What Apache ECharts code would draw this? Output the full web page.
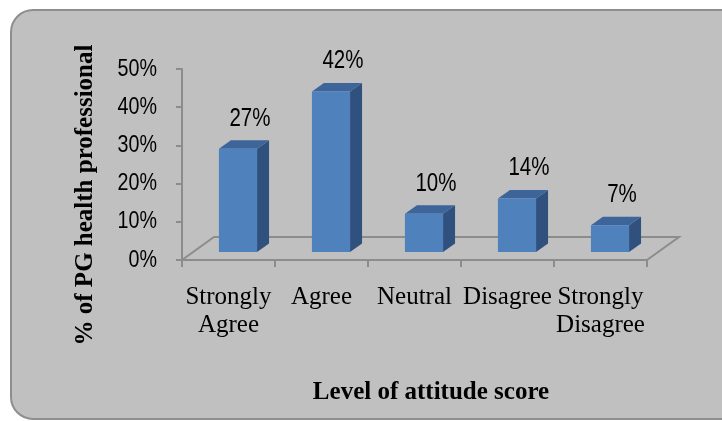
<!DOCTYPE html>
<html>
<head>
<meta charset="utf-8">
<script src="https://cdn.jsdelivr.net/npm/echarts@6/dist/echarts.min.js"></script>
<style>
html,body{margin:0;padding:0;background:#fff;}
#chart{width:722px;height:421px;}
</style>
</head>
<body>
<div id="chart"></div>
<script>
const categories = ['Strongly Agree', 'Agree', 'Neutral', 'Disagree', 'Strongly Disagree'];
const values = [27, 42, 10, 14, 7];
const yTicks = [0, 10, 20, 30, 40, 50];

const SANS = '"Liberation Sans", Arial, sans-serif';
const SERIF = '"Liberation Serif", "Times New Roman", serif';
const GRAYLINE = '#8c8c8c';
const NARROW_SCALE = 0.82;

const chart = echarts.init(document.getElementById('chart'), null, {renderer: 'canvas'});

function renderFloor(params, api) {
  const cs = params.coordSys;
  const x0 = cs.x, x1 = cs.x + cs.width, y0 = cs.y + cs.height;
  const dx = 32, dy = -23;
  return {
    type: 'polyline',
    shape: {points: [[x0, y0], [x0 + dx, y0 + dy], [x1 + dx, y0 + dy], [x1, y0]]},
    style: {stroke: GRAYLINE, lineWidth: 2, fill: null}
  };
}

function renderYLabel(params, api) {
  const t = api.value(1);
  const p = api.coord([0, t]);
  const cs = params.coordSys;
  return {
    type: 'text', x: cs.x - 25, y: p[1], scaleX: NARROW_SCALE,
    style: {text: t + '%', align: 'right', verticalAlign: 'middle', fill: '#000', font: '24px ' + SANS}
  };
}

function renderBar(params, api) {
  const idx = api.value(0), v = api.value(1);
  const top = api.coord([idx, v]);
  const base = api.coord([idx, 0]);
  const band = api.size([1, 0])[0];
  const w = band * 0.41;
  const ox = band * 0.102, oy = -8;
  const dx = 12, dy = -8.5;
  const xl = top[0] - w / 2 + ox, xr = xl + w;
  const yt = top[1] + oy, yb = base[1] + oy;
  return {
    type: 'group',
    children: [
      {type: 'polygon', shape: {points: [[xr, yt], [xr + dx, yt + dy], [xr + dx, yb + dy], [xr, yb]]},
        style: {fill: '#30507e'}},
      {type: 'polygon', shape: {points: [[xl, yt], [xr, yt], [xr + dx, yt + dy], [xl + dx, yt + dy]]},
        style: {fill: '#3d6599'}},
      {type: 'rect', shape: {x: xl, y: yt, width: w, height: yb - yt},
        style: {fill: '#4f81bd'}},
      {type: 'text', x: top[0] + ox + 12, y: yt - 30, scaleX: NARROW_SCALE,
        style: {text: v + '%', align: 'center', verticalAlign: 'middle', fill: '#000',
          font: '25px ' + SANS}}
    ]
  };
}

const option = {
  backgroundColor: '#ffffff',
  animation: false,
  graphic: {elements: [
    {type: 'rect', z: -10, shape: {x: 11, y: 10, width: 735, height: 409, r: 22},
      style: {fill: '#c0c0c0', stroke: '#8e8e8e', lineWidth: 2}},
    {type: 'text', z: 10, x: 86, y: 195, rotation: Math.PI / 2,
      style: {text: '% of PG health professional', align: 'center', verticalAlign: 'middle',
        fill: '#000', font: 'bold 25px ' + SERIF}},
    {type: 'text', z: 10, x: 431, y: 393,
      style: {text: 'Level of attitude score', align: 'center', verticalAlign: 'middle',
        fill: '#000', font: 'bold 25px ' + SERIF}}
  ]},
  grid: {left: 182, right: 75, top: 69, bottom: 161, containLabel: false},
  xAxis: {
    type: 'category',
    data: categories,
    boundaryGap: true,
    axisLine: {show: true, lineStyle: {color: GRAYLINE, width: 2}},
    axisTick: {show: true, length: 7, lineStyle: {color: GRAYLINE, width: 2}},
    axisLabel: {interval: 0, margin: 23, color: '#000', fontFamily: SERIF, fontSize: 25, lineHeight: 28,
      formatter: v => v.replace(' ', '\n')},
    splitLine: {show: false}
  },
  yAxis: {
    type: 'value',
    min: yTicks[0], max: yTicks[yTicks.length - 1], interval: 10,
    axisLine: {show: true, lineStyle: {color: GRAYLINE, width: 2}},
    axisTick: {show: true, length: 6, lineStyle: {color: GRAYLINE, width: 2}},
    axisLabel: {show: false},
    splitLine: {show: false}
  },
  series: [
    {type: 'custom', renderItem: renderFloor, data: [[0, 0]], clip: false, z: 1, silent: true},
    {type: 'custom', renderItem: renderYLabel, data: yTicks.map(t => [0, t]), clip: false, z: 4, silent: true,
      encode: {x: 0, y: 1}},
    {type: 'custom', renderItem: renderBar, data: values.map((v, i) => [i, v]), clip: false, z: 3,
      encode: {x: 0, y: 1}}
  ]
};
chart.setOption(option);
</script>
</body>
</html>
